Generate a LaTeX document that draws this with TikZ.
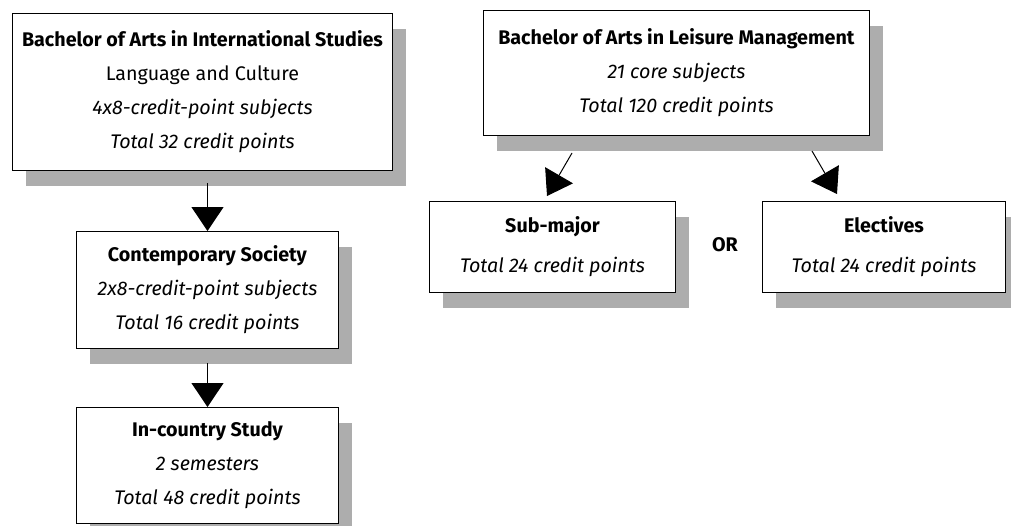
\documentclass[tikz,border=0pt]{standalone}
\usepackage{fontspec}
\setmainfont{Fira Sans}
\usetikzlibrary{shadows,arrows.meta,calc}

\begin{document}
\begin{tikzpicture}[x=1pt,y=-1pt,
  box/.style={draw=black, line width=1pt, fill=white, align=center,
    inner sep=0pt, anchor=north west,
    drop shadow={shadow xshift=13pt, shadow yshift=-15pt, fill=black!32, opacity=1},
    font=\fontsize{19.7}{34}\selectfont},
  conn/.style={line width=1pt, -{Triangle[width=32pt,length=24pt]}},
  ortext/.style={font=\fontsize{19.7}{22}\selectfont\bfseries}
]
\useasboundingbox (0,0) rectangle (1011,525);

% programme boxes
\node[box, minimum width=380pt, minimum height=157pt] (ba1) at (12,13)
  {\textbf{Bachelor of Arts in International Studies}\\
   Language and Culture\\
   \textit{4x8-credit-point subjects}\\
   \textit{Total 32 credit points}};
\node[box, minimum width=386pt, minimum height=125pt] (ba2) at (483,10)
  {\textbf{Bachelor of Arts in Leisure Management}\\
   \textit{21 core subjects}\\
   \textit{Total 120 credit points}};
\node[box, minimum width=246pt, minimum height=91pt] (sub) at (429,201)
  {\textbf{Sub-major}\\[6pt]
   \textit{Total 24 credit points}};
\node[box, minimum width=243pt, minimum height=91pt] (ele) at (762,201)
  {\textbf{Electives}\\[6pt]
   \textit{Total 24 credit points}};
\node[box, minimum width=262pt, minimum height=117pt] (cs) at (76,231)
  {\textbf{Contemporary Society}\\
   \textit{2x8-credit-point subjects}\\
   \textit{Total 16 credit points}};
\node[box, minimum width=262pt, minimum height=116pt] (ic) at (76,407)
  {\textbf{In-country Study}\\
   \textit{2 semesters}\\
   \textit{Total 48 credit points}};

\node[ortext] (or) at (725,245) {OR};

% connectors
\draw[conn] ($(cs.north |- ba1.south)+(0,12)$) -- (cs.north);
\draw[conn] ($(ic.north |- cs.south)+(0,14)$) -- (ic.north);
\draw[conn] ($(ba2.south west)+(89,17)$) -- ($(sub.north west)+(118,-5)$);
\draw[conn] ($(ba2.south west)+(329,15)$) -- ($(ele.north west)+(75,-7)$);
\end{tikzpicture}
\end{document}
